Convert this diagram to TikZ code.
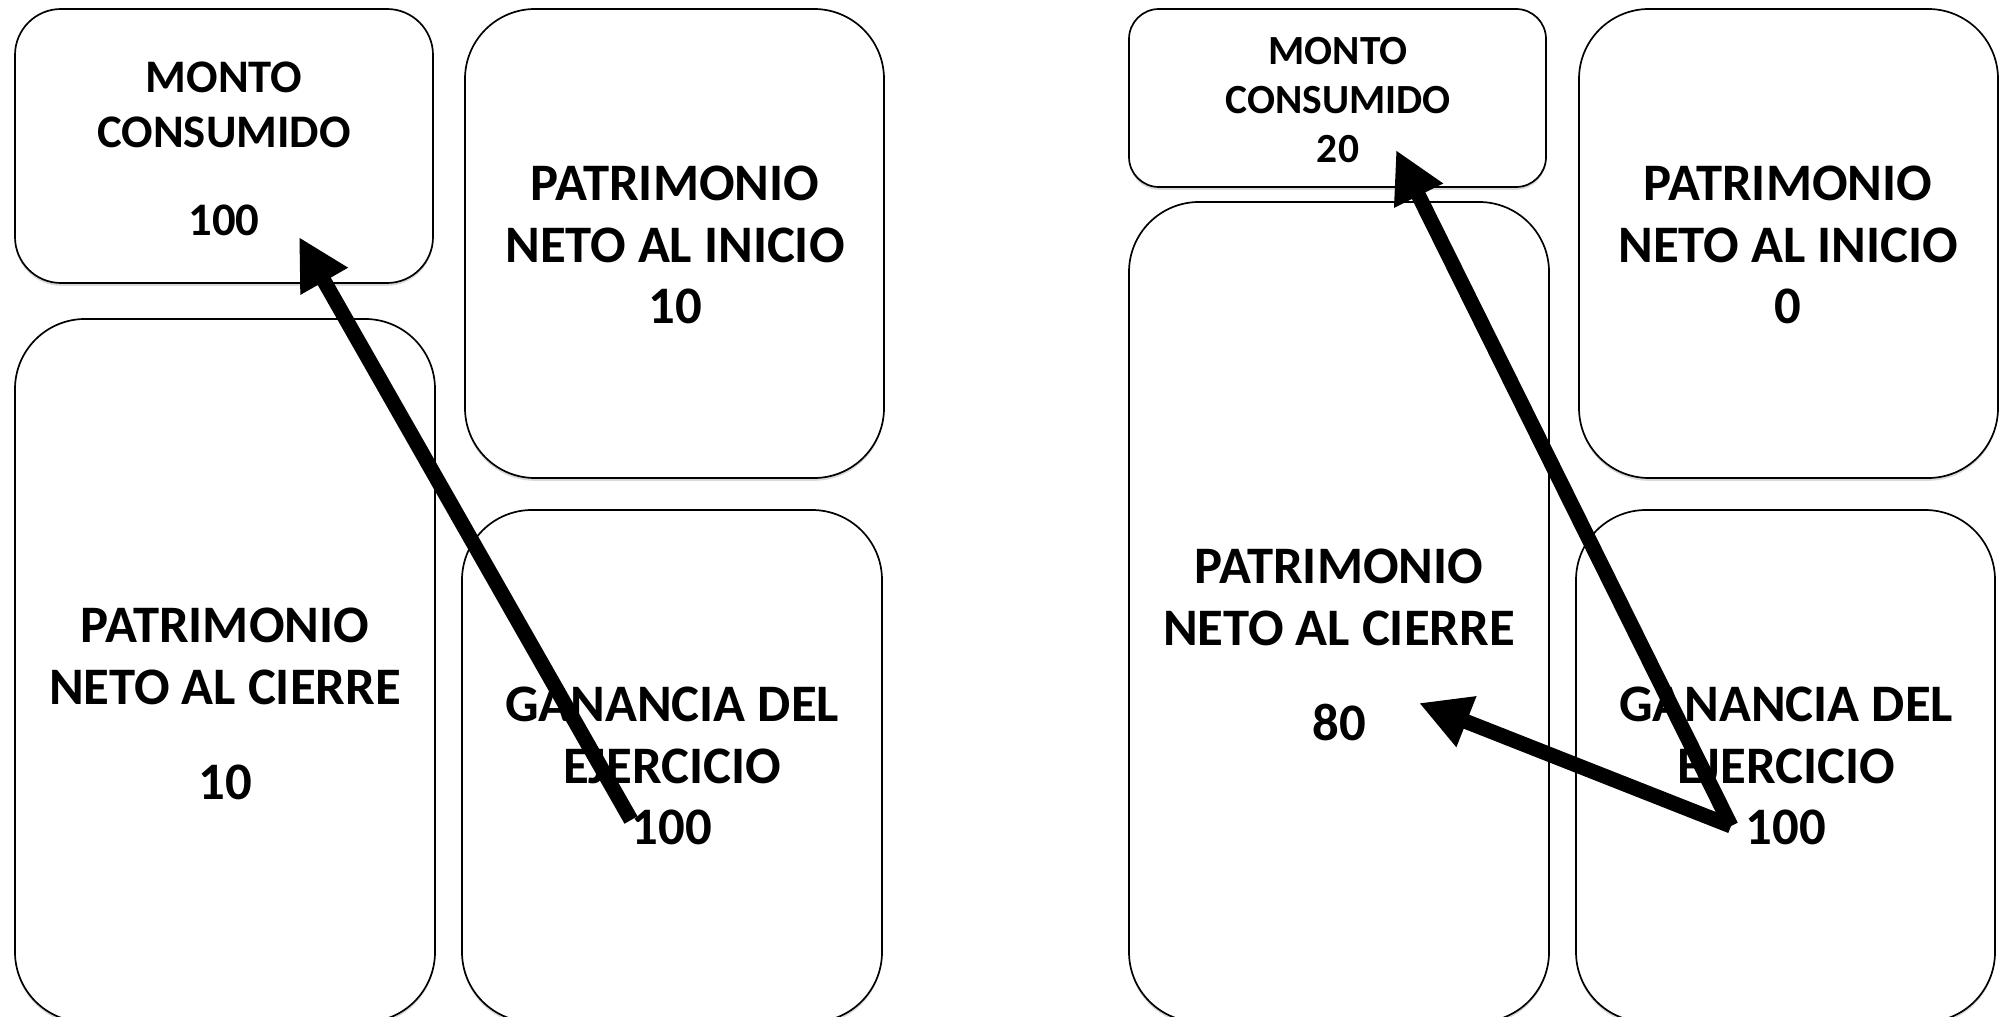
\documentclass[tikz,border=0pt]{standalone}
\usepackage{fontspec}
\setmainfont{Carlito}
\usetikzlibrary{arrows.meta}
\usetikzlibrary{shadows}

\tikzset{
  cuenta/.style={draw=black, line width=1.2pt, fill=white, inner sep=0pt, outer sep=0pt,
    drop shadow={shadow xshift=0pt, shadow yshift=-2pt, opacity=0.3}},
  texto/.style={align=center, font=\bfseries\fontsize{37.5}{44}\selectfont},
  flecha/.style={line width=3.75mm, -{Triangle[length=12.75mm, width=12.75mm]}},
}

\begin{document}
\begin{tikzpicture}[x=0.25mm, y=-0.25mm]
        \useasboundingbox (0,0) rectangle (2008,1017);
        \node[cuenta, rounded corners=11.5mm, minimum width=104.5mm, minimum height=68.5mm] (mcL) at (224,146) {};
        \node[cuenta, rounded corners=17.5mm, minimum width=104.75mm, minimum height=117.25mm] (pniL) at (674.5,243.5) {};
        \node[cuenta, rounded corners=17.5mm, minimum width=105mm, minimum height=175.75mm] (pncL) at (225,670.5) {};
        \node[cuenta, rounded corners=17.5mm, minimum width=105mm, minimum height=128mm] (ganL) at (672,766) {};
        \node[cuenta, rounded corners=7.5mm, minimum width=104.25mm, minimum height=44.5mm] (mcR) at (1337.5,98) {};
        \node[cuenta, rounded corners=17.5mm, minimum width=104.75mm, minimum height=117.25mm] (pniR) at (1788.5,243.5) {};
        \node[cuenta, rounded corners=17.5mm, minimum width=105mm, minimum height=205mm] (pncR) at (1339,612) {};
        \node[cuenta, rounded corners=17.5mm, minimum width=104.75mm, minimum height=128mm] (ganR) at (1785.5,766) {};

        \node[texto, font=\bfseries\fontsize{33.2}{39}\selectfont] (mcLt) at (224,149) {MONTO\\CONSUMIDO\\[24pt]100};
        \node[texto] (pniLt) at (675,245) {PATRIMONIO\\NETO AL INICIO\\10};
        \node[texto] (pncLt) at (225,704) {PATRIMONIO\\NETO AL CIERRE\\[24pt]10};
        \node[texto] (ganLt) at (672,766) {GANANCIA DEL\\EJERCICIO\\100};
        \node[texto, font=\bfseries\fontsize{29.5}{35}\selectfont] (mcRt) at (1338,100) {MONTO\\CONSUMIDO\\20};
        \node[texto] (pniRt) at (1788,245) {PATRIMONIO\\NETO AL INICIO\\0};
        \node[texto] (pncRt) at (1339,645) {PATRIMONIO\\NETO AL CIERRE\\[24pt]80};
        \node[texto] (ganRt) at (1786,766) {GANANCIA DEL\\EJERCICIO\\100};

        \coordinate (ganLpie) at (631,820);
        \coordinate (mcLpunta) at (299,237);
        \coordinate (ganRpie) at (1731,826);
        \coordinate (mcRpunta) at (1396,150);
        \coordinate (pncRpunta) at (1419,703);
        \draw[flecha] (ganLpie) -- (mcLpunta);
        \draw[flecha] (ganRpie) -- (mcRpunta);
        \draw[flecha] (ganRpie) -- (pncRpunta);
    \end{tikzpicture}
\end{document}
